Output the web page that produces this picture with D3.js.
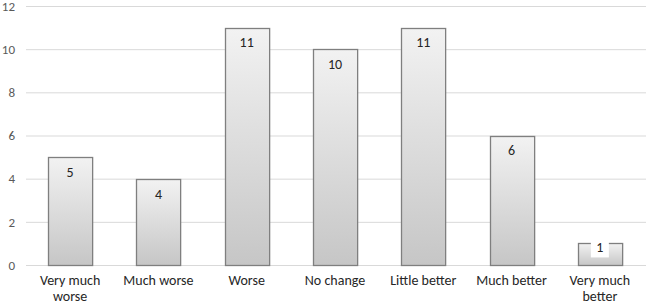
<!DOCTYPE html>
<html><head><meta charset="utf-8">
<script src="https://cdn.jsdelivr.net/npm/d3@7"></script>
<style>body{margin:0;background:#fff}svg{display:block}text{font-family:Carlito,Lato,"Open Sans","Liberation Sans",sans-serif}</style>
</head><body><svg id="c" width="646" height="304"></svg>
<script>
const categories = ["Very much worse","Much worse","Worse","No change","Little better","Much better","Very much better"];
const catLines = [["Very much","worse"],["Much worse"],["Worse"],["No change"],["Little better"],["Much better"],["Very much","better"]];
const values = [5,4,11,10,11,6,1];
const yTicks = [0,2,4,6,8,10,12];

const svg = d3.select("#c");
const x = d3.scaleBand().domain(categories).range([26,644]).paddingInner(0.5).paddingOuter(0.25);
const y = d3.scaleLinear().domain([0,12]).range([265,6]);

const defs = svg.append("defs");
const g = defs.append("linearGradient").attr("id","bg").attr("x1",0).attr("y1",0).attr("x2",0).attr("y2",1);
g.append("stop").attr("offset","0%").attr("stop-color","#f2f2f2");
g.append("stop").attr("offset","100%").attr("stop-color","#c6c6c6");

// grid
svg.append("g").selectAll("line").data(yTicks).join("line")
  .attr("x1",26).attr("x2",646).attr("y1",d=>y(d)+0.5).attr("y2",d=>y(d)+0.5)
  .attr("stroke","#d9d9d9").attr("stroke-width",1);

// y axis labels
const ya = svg.append("g").attr("transform","translate(15,0)")
  .call(d3.axisLeft(y).tickValues(yTicks).tickSize(0).tickPadding(0));
ya.select(".domain").remove();
ya.selectAll("text").attr("fill","#595959").style("font-size","13px").attr("text-anchor","end").attr("x",0);

// bars
svg.append("g").selectAll("rect").data(values).join("rect")
  .attr("x",(d,i)=>Math.round(x(categories[i]))+0.5)
  .attr("y",d=>Math.round(y(d))+0.5)
  .attr("width",x.bandwidth())
  .attr("height",d=>Math.round(y(0))-Math.round(y(d)))
  .attr("fill","url(#bg)").attr("stroke","#7f7f7f").attr("stroke-width",1.3);

// value labels
const lab = svg.append("g").selectAll("g").data(values).join("g")
  .attr("transform",(d,i)=>`translate(${x(categories[i])+x.bandwidth()/2},${d<2 ? y(d)+4 : y(d)+15})`);
lab.filter(d=>d<2).append("rect").attr("x",-9).attr("y",-12).attr("width",18).attr("height",22).attr("fill","#fff");
lab.append("text").text(d=>d).attr("text-anchor","middle").attr("dy","0.35em")
  .attr("fill","#262626").style("font-size","14px");

// x labels
const xl = svg.append("g").selectAll("text").data(categories).join("text")
  .attr("x",d=>x(d)+x.bandwidth()/2).attr("y",285)
  .attr("text-anchor","middle").attr("fill","#262626").style("font-size","14px");
xl.selectAll("tspan").data((d,i)=>catLines[i]).join("tspan")
  .attr("x",function(){return this.parentNode.getAttribute("x");})
  .attr("dy",(d,i)=>i===0?0:16).text(d=>d);
</script></body></html>
